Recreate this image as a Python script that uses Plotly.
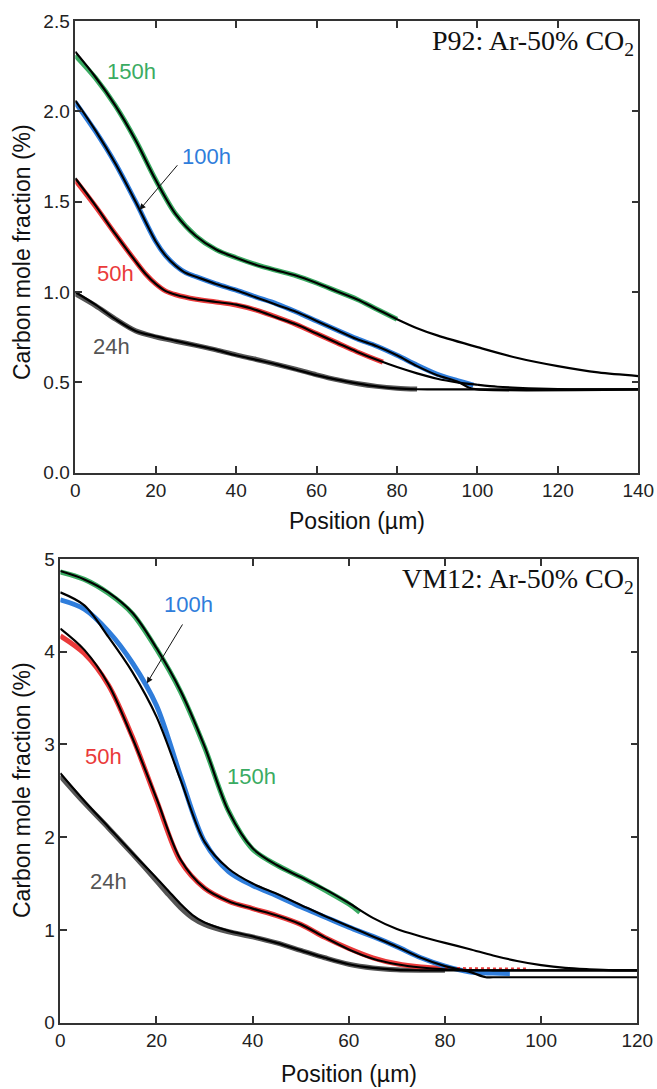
import plotly.graph_objects as go

# ---------------- P92 (top) : measured ----------------
x24_d = [0, 5, 10, 15, 20, 25, 30, 35, 40, 45, 50, 55, 60, 65, 70, 75, 80, 85]
y24_d = [0.99, 0.925, 0.85, 0.785, 0.752, 0.728, 0.705, 0.68, 0.652, 0.627, 0.60, 0.572, 0.542, 0.515, 0.494, 0.478, 0.468, 0.463]
x50_d = [0, 5, 10, 15, 17.5, 20, 22.5, 25, 30, 35, 40, 45, 50, 55, 60, 65, 70, 76.5]
y50_d = [1.62, 1.475, 1.32, 1.17, 1.10, 1.045, 1.005, 0.985, 0.96, 0.945, 0.928, 0.90, 0.862, 0.82, 0.77, 0.72, 0.67, 0.612]
x100_d = [0, 5, 10, 15, 20, 22.5, 25, 27.5, 30, 35, 40, 45, 50, 55, 60, 65, 70, 75, 80, 85, 90, 95, 99]
y100_d = [2.05, 1.89, 1.71, 1.50, 1.28, 1.20, 1.145, 1.107, 1.085, 1.045, 1.01, 0.972, 0.935, 0.89, 0.84, 0.79, 0.742, 0.70, 0.65, 0.595, 0.545, 0.51, 0.485]
x150_d = [0, 5, 10, 15, 20, 25, 30, 35, 40, 45, 50, 55, 60, 65, 70, 75, 80]
y150_d = [2.31, 2.185, 2.03, 1.84, 1.62, 1.43, 1.31, 1.235, 1.19, 1.152, 1.12, 1.09, 1.05, 1.005, 0.96, 0.905, 0.85]

# ---------------- P92 (top) : fitted ----------------
x24_f = [0, 5, 10, 15, 20, 25, 30, 35, 40, 45, 50, 55, 60, 65, 70, 75, 80, 85, 90, 140]
y24_f = [1.0, 0.93, 0.85, 0.785, 0.755, 0.73, 0.705, 0.68, 0.65, 0.625, 0.60, 0.57, 0.54, 0.515, 0.495, 0.478, 0.467, 0.462, 0.461, 0.461]
x50_f = [0, 5, 10, 15, 17.5, 20, 22.5, 25, 30, 35, 40, 45, 50, 55, 60, 65, 70, 75, 80, 85, 90, 95, 100, 105, 110, 120, 140]
y50_f = [1.63, 1.48, 1.32, 1.17, 1.10, 1.045, 1.005, 0.985, 0.96, 0.945, 0.93, 0.90, 0.86, 0.82, 0.77, 0.72, 0.67, 0.625, 0.585, 0.55, 0.52, 0.50, 0.487, 0.476, 0.47, 0.463, 0.461]
x100_f = [0, 5, 10, 15, 20, 22.5, 25, 27.5, 30, 35, 40, 45, 50, 55, 60, 65, 70, 75, 80, 85, 90, 95, 98, 100, 140]
y100_f = [2.06, 1.895, 1.71, 1.50, 1.28, 1.20, 1.145, 1.105, 1.085, 1.045, 1.01, 0.97, 0.93, 0.89, 0.84, 0.79, 0.74, 0.70, 0.65, 0.59, 0.54, 0.505, 0.47, 0.461, 0.461]
x150_f = [0, 5, 10, 15, 20, 25, 30, 35, 40, 45, 50, 55, 60, 65, 70, 75, 80, 85, 90, 100, 110, 120, 130, 140]
y150_f = [2.33, 2.19, 2.03, 1.84, 1.62, 1.43, 1.31, 1.235, 1.19, 1.15, 1.12, 1.09, 1.05, 1.005, 0.96, 0.905, 0.85, 0.80, 0.76, 0.695, 0.635, 0.59, 0.555, 0.535]

# ---------------- VM12 (bottom) : measured ----------------
bx24_d = [0, 5, 10, 15, 20, 22.5, 25, 27.5, 30, 35, 40, 45, 50, 55, 60, 65, 70, 75, 80]
by24_d = [2.66, 2.37, 2.10, 1.82, 1.53, 1.38, 1.24, 1.13, 1.06, 0.98, 0.925, 0.86, 0.78, 0.70, 0.63, 0.59, 0.57, 0.565, 0.565]
bx50_d = [0, 5, 10, 15, 20, 25, 30, 35, 40, 45, 50, 55, 60, 65, 70, 75, 80]
by50_d = [4.17, 3.98, 3.64, 3.08, 2.40, 1.74, 1.45, 1.31, 1.23, 1.155, 1.06, 0.92, 0.80, 0.70, 0.635, 0.60, 0.585]
bx50_tail = [80, 85, 90, 97.5]
by50_tail = [0.585, 0.58, 0.58, 0.58]
bx100_d = [0, 5, 10, 15, 20, 25, 30, 35, 40, 45, 50, 55, 60, 65, 70, 75, 80, 85, 90, 93.5]
by100_d = [4.56, 4.46, 4.22, 3.88, 3.42, 2.66, 1.95, 1.63, 1.48, 1.37, 1.25, 1.14, 1.03, 0.93, 0.82, 0.70, 0.61, 0.55, 0.535, 0.53]
bx150_d = [0, 5, 10, 15, 20, 25, 30, 35, 40, 45, 50, 55, 60, 62.3]
by150_d = [4.86, 4.78, 4.63, 4.41, 4.03, 3.57, 2.97, 2.28, 1.87, 1.70, 1.57, 1.43, 1.28, 1.19]

# ---------------- VM12 (bottom) : fitted ----------------
bx24_f = [0, 5, 10, 15, 20, 22.5, 25, 27.5, 30, 35, 40, 45, 50, 55, 60, 65, 70, 75, 80, 120]
by24_f = [2.69, 2.39, 2.11, 1.83, 1.56, 1.42, 1.28, 1.16, 1.08, 0.99, 0.93, 0.86, 0.78, 0.70, 0.63, 0.59, 0.57, 0.565, 0.565, 0.565]
bx50_f = [0, 5, 10, 15, 20, 25, 30, 35, 40, 45, 50, 55, 60, 65, 70, 75, 80, 85, 90, 120]
by50_f = [4.25, 4.02, 3.65, 3.07, 2.42, 1.76, 1.45, 1.31, 1.23, 1.155, 1.06, 0.92, 0.79, 0.69, 0.63, 0.595, 0.575, 0.567, 0.565, 0.565]
bx100_f = [0, 5, 10, 15, 20, 25, 30, 35, 40, 45, 50, 55, 60, 65, 70, 75, 80, 85, 88.5, 90, 120]
by100_f = [4.64, 4.50, 4.16, 3.78, 3.30, 2.62, 1.95, 1.66, 1.50, 1.39, 1.27, 1.15, 1.04, 0.93, 0.82, 0.70, 0.61, 0.55, 0.49, 0.49, 0.49]
bx150_f = [0, 5, 10, 15, 20, 25, 30, 35, 40, 45, 50, 55, 60, 65, 70, 75, 80, 85, 90, 95, 100, 105, 110, 115, 120]
by150_f = [4.87, 4.78, 4.64, 4.42, 4.04, 3.58, 2.98, 2.28, 1.88, 1.70, 1.57, 1.44, 1.29, 1.13, 1.01, 0.93, 0.86, 0.795, 0.725, 0.665, 0.62, 0.59, 0.575, 0.565, 0.565]

labels = ["24h", "50h", "100h", "150h"]
colors = ["#555555", "#ea3a3a", "#2f7ddb", "#3aab62"]

top_data = [(x24_d, y24_d), (x50_d, y50_d), (x100_d, y100_d), (x150_d, y150_d)]
top_fit = [(x24_f, y24_f), (x50_f, y50_f), (x100_f, y100_f), (x150_f, y150_f)]
bot_data = [(bx24_d, by24_d), (bx50_d, by50_d), (bx100_d, by100_d), (bx150_d, by150_d)]
bot_fit = [(bx24_f, by24_f), (bx50_f, by50_f), (bx100_f, by100_f), (bx150_f, by150_f)]

fig = go.Figure()

def add_panel(data, fits, xa, ya, extra=None):
    for (x, y), c in zip(data, colors):
        fig.add_trace(go.Scatter(x=x, y=y, mode="lines", xaxis=xa, yaxis=ya,
                                 line=dict(color=c, width=5, shape="spline", smoothing=0.9),
                                 showlegend=False, hoverinfo="skip"))
    if extra:
        ex, ey, ec = extra
        fig.add_trace(go.Scatter(x=ex, y=ey, mode="lines", xaxis=xa, yaxis=ya,
                                 line=dict(color=ec, width=3, dash="dot"),
                                 showlegend=False, hoverinfo="skip"))
    for (x, y) in fits:
        fig.add_trace(go.Scatter(x=x, y=y, mode="lines", xaxis=xa, yaxis=ya,
                                 line=dict(color="black", width=2.2, shape="spline", smoothing=0.9),
                                 showlegend=False, hoverinfo="skip"))

add_panel(top_data, top_fit, "x", "y")
add_panel(bot_data, bot_fit, "x2", "y2", extra=(bx50_tail, by50_tail, colors[1]))

tickfont = dict(family="Liberation Sans, Arial, sans-serif", size=19, color="#222")
ax_common = dict(showline=True, linecolor="#333", linewidth=1.5, mirror="ticks",
                 ticks="inside", ticklen=7, tickwidth=1.5, tickcolor="#333",
                 showgrid=False, zeroline=False, tickfont=tickfont)

fig.update_layout(
    width=657, height=1089,
    margin=dict(l=0, r=0, t=0, b=0, autoexpand=False),
    paper_bgcolor="white", plot_bgcolor="white",
    xaxis=dict(domain=[0.1146, 0.9715], range=[0, 140], tickvals=[0, 20, 40, 60, 80, 100, 120, 140],
               anchor="y", **ax_common),
    yaxis=dict(domain=[0.5659, 0.9807], range=[0, 2.5], tickvals=[0, 0.5, 1.0, 1.5, 2.0, 2.5],
               tickformat=".1f", anchor="x", **ax_common),
    xaxis2=dict(domain=[0.0918, 0.970], range=[0, 120], tickvals=[0, 20, 40, 60, 80, 100, 120],
                anchor="y2", **ax_common),
    yaxis2=dict(domain=[0.0609, 0.4867], range=[0, 5], tickvals=[0, 1, 2, 3, 4, 5],
                anchor="x2", **ax_common),
)

lab_font = "Liberation Sans, Arial, sans-serif"
ann = []
top_lab_pos = [(9.05, 0.70), (9.9, 1.10), (32.7, 1.75), (14.0, 2.22)]
bot_lab_pos = [(10.0, 1.52), (8.9, 2.87), (26.6, 4.51), (39.8, 2.65)]
for (lx, ly), t, c in zip(top_lab_pos, labels, colors):
    ann.append(dict(x=lx, y=ly, xref="x", yref="y", text=t, showarrow=False,
                    xanchor="center", yanchor="middle",
                    font=dict(family=lab_font, size=22, color=c)))
for (lx, ly), t, c in zip(bot_lab_pos, labels, colors):
    ann.append(dict(x=lx, y=ly, xref="x2", yref="y2", text=t, showarrow=False,
                    xanchor="center", yanchor="middle",
                    font=dict(family=lab_font, size=22, color=c)))

# arrows
ann.append(dict(x=16.0, y=1.455, ax=25.7, ay=1.71, xref="x", yref="y", axref="x", ayref="y",
                text="", showarrow=True, arrowhead=2, arrowsize=1.2, arrowwidth=1, arrowcolor="#111"))
ann.append(dict(x=18.0, y=3.66, ax=25.6, ay=4.31, xref="x2", yref="y2", axref="x2", ayref="y2",
                text="", showarrow=True, arrowhead=2, arrowsize=1.2, arrowwidth=1, arrowcolor="#111"))

serif = "Liberation Serif, Times New Roman, serif"
ann.append(dict(x=636/657, y=1 - 23/1089, xref="paper", yref="paper", xanchor="right", yanchor="top",
                text="P92: Ar-50% CO<sub>2</sub>", showarrow=False,
                font=dict(family=serif, size=28, color="#111")))
ann.append(dict(x=636/657, y=1 - 561/1089, xref="paper", yref="paper", xanchor="right", yanchor="top",
                text="VM12: Ar-50% CO<sub>2</sub>", showarrow=False,
                font=dict(family=serif, size=28, color="#111")))

tfont = dict(family=lab_font, size=23, color="#111")
ann.append(dict(x=22/657, y=1 - 252/1089, xref="paper", yref="paper", text="Carbon mole fraction (%)",
                xanchor="center", yanchor="middle",
                textangle=-90, showarrow=False, font=tfont))
ann.append(dict(x=22/657, y=1 - 790/1089, xref="paper", yref="paper", text="Carbon mole fraction (%)",
                xanchor="center", yanchor="middle",
                textangle=-90, showarrow=False, font=tfont))
ann.append(dict(x=357/657, y=1 - 521/1089, xref="paper", yref="paper", text="Position (µm)",
                xanchor="center", yanchor="middle", showarrow=False, font=tfont))
ann.append(dict(x=349/657, y=1 - 1074/1089, xref="paper", yref="paper", text="Position (µm)",
                xanchor="center", yanchor="middle", showarrow=False, font=tfont))

fig.update_layout(annotations=ann)
fig.write_html("out.html")
